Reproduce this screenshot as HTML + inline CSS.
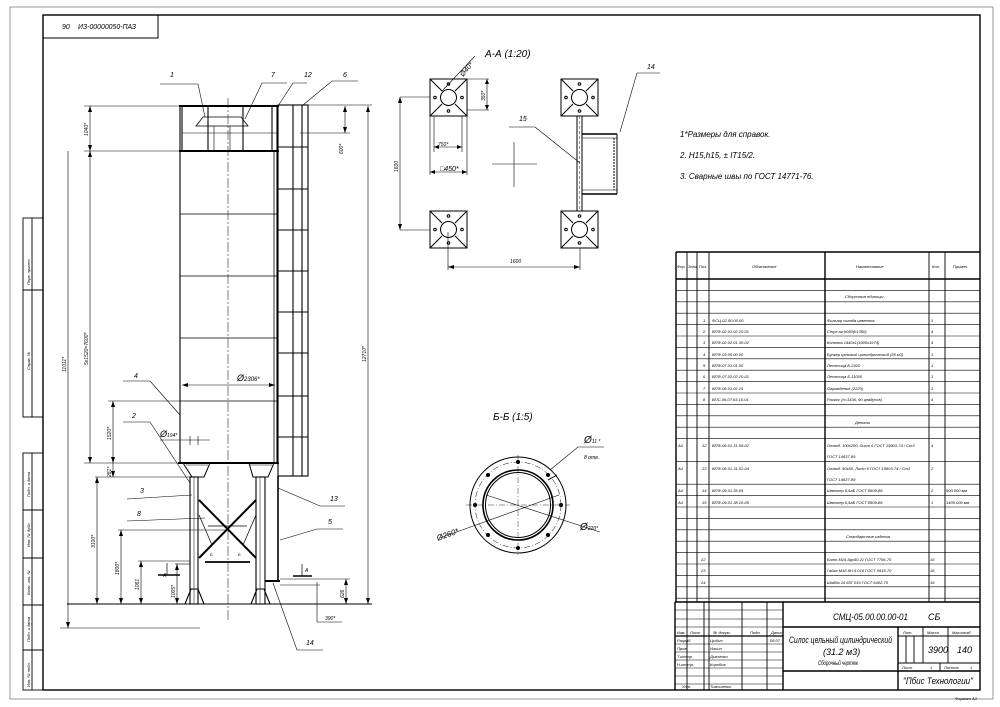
<!DOCTYPE html>
<html><head><meta charset="utf-8"><style>
html,body{margin:0;padding:0;background:#fff;}
svg{display:block;}
text{font-family:"Liberation Sans",sans-serif;font-style:italic;fill:#000;}
.t{font-size:5px;}
.s{font-size:4px;}
.n{font-size:7px;}
</style></head><body>
<svg width="1000" height="707" viewBox="0 0 1000 707" xmlns="http://www.w3.org/2000/svg">
<g fill="none" stroke="#000">
<rect x="10" y="7" width="983" height="692" stroke-width="0.6" stroke="#555"/>
<rect x="43" y="15" width="937" height="675" stroke-width="1.4"/>
<rect x="43" y="15" width="115" height="23" stroke-width="1"/>
<g stroke-width="0.9">
<rect x="23" y="218" width="20" height="199"/><line x1="32" y1="218" x2="32" y2="417"/><line x1="23" y1="290" x2="43" y2="290"/>
<rect x="23" y="453" width="20" height="237"/><line x1="32" y1="453" x2="32" y2="690"/>
<line x1="23" y1="510" x2="43" y2="510"/><line x1="23" y1="558" x2="43" y2="558"/><line x1="23" y1="605" x2="43" y2="605"/><line x1="23" y1="650" x2="43" y2="650"/>
</g>

<g stroke-width="1.1">
<rect x="180" y="106" width="97" height="45"/>
<line x1="182" y1="133" x2="277" y2="133" stroke-width="0.6"/>
<line x1="182" y1="106" x2="182" y2="151"/><line x1="208" y1="106" x2="208" y2="151"/><line x1="243" y1="106" x2="243" y2="151"/><line x1="272" y1="106" x2="272" y2="151"/>
<line x1="179" y1="106" x2="279" y2="106" stroke-width="2"/>
<path d="M196 126 L203 117 L241 117 L248 126 Z" stroke-width="0.8"/>
<line x1="214" y1="126" x2="214" y2="151" stroke-width="0.6"/><line x1="230" y1="126" x2="230" y2="151" stroke-width="0.6"/>
<rect x="180" y="151" width="97" height="312"/>
<line x1="179" y1="151" x2="279" y2="151" stroke-width="2"/>
<line x1="180" y1="214" x2="277" y2="214" stroke-width="0.7"/>
<line x1="180" y1="276" x2="277" y2="276" stroke-width="0.7"/>
<line x1="180" y1="338" x2="277" y2="338" stroke-width="0.7"/>
<line x1="180" y1="401" x2="277" y2="401" stroke-width="0.7"/>
<line x1="178" y1="463" x2="279" y2="463" stroke-width="2"/>
<rect x="278" y="105" width="30" height="371"/>
<line x1="293" y1="105" x2="293" y2="476"/><line x1="302" y1="105" x2="302" y2="476"/>
<line x1="274" y1="151" x2="274" y2="463" stroke-width="0.8"/>
<line x1="278" y1="147" x2="308" y2="147"/><line x1="278" y1="189" x2="308" y2="189"/><line x1="278" y1="230" x2="308" y2="230"/><line x1="278" y1="271" x2="308" y2="271"/><line x1="278" y1="312" x2="308" y2="312"/><line x1="278" y1="353" x2="308" y2="353"/><line x1="278" y1="396" x2="308" y2="396"/><line x1="278" y1="437" x2="308" y2="437"/><line x1="278" y1="476" x2="308" y2="476"/>
<line x1="278" y1="476" x2="278" y2="582" stroke-width="1.6"/>
<line x1="265" y1="581" x2="280" y2="581" stroke-width="2"/>
<path d="M183 463 L192 477 L204 477 L210 463" stroke-width="1"/>
<path d="M249 463 L253 477 L268 477 L274 463" stroke-width="1"/>
<line x1="186" y1="465" x2="208" y2="465" stroke-width="0.5"/><line x1="250" y1="465" x2="272" y2="465" stroke-width="0.5"/>
<rect x="190" y="477" width="8" height="127"/><rect x="256" y="477" width="9" height="127"/>
<line x1="194" y1="477" x2="194" y2="604" stroke-width="0.5"/><line x1="260" y1="477" x2="260" y2="604" stroke-width="0.5"/>
<path d="M185 604 L191 589 L198 589 L204 604" /><path d="M251 604 L257 589 L264 589 L270 604"/>
<line x1="199" y1="500" x2="256" y2="558" stroke-width="2"/>
<line x1="256" y1="500" x2="199" y2="558" stroke-width="2"/>
<line x1="208" y1="526" x2="247" y2="526" stroke-width="0.8"/>
<line x1="205" y1="562" x2="250" y2="562" stroke-width="1.8"/>
<line x1="199" y1="515" x2="212" y2="545" stroke-width="0.7"/><line x1="256" y1="515" x2="243" y2="545" stroke-width="0.7"/>
<line x1="67" y1="604" x2="372" y2="604" stroke-width="1"/>
</g>
<line x1="228" y1="98" x2="228" y2="620" stroke-width="0.5" stroke-dasharray="10,2,2,2"/>

<g stroke-width="0.6">
<line x1="68" y1="151" x2="68" y2="628"/><line x1="60" y1="628" x2="200" y2="628"/>
<line x1="90" y1="106" x2="90" y2="463"/>
<line x1="84" y1="106" x2="180" y2="106"/><line x1="84" y1="151" x2="180" y2="151"/><line x1="84" y1="463" x2="180" y2="463"/>
<line x1="113" y1="401" x2="113" y2="477"/><line x1="108" y1="401" x2="180" y2="401"/><line x1="95" y1="477" x2="190" y2="477"/>
<line x1="97" y1="477" x2="97" y2="604"/>
<line x1="121" y1="530" x2="121" y2="604"/><line x1="118" y1="530" x2="228" y2="530"/>
<line x1="141" y1="561" x2="141" y2="604"/><line x1="138" y1="561" x2="190" y2="561"/>
<line x1="177" y1="564" x2="177" y2="604"/><line x1="175" y1="564" x2="190" y2="564"/>
<line x1="368" y1="106" x2="368" y2="604"/><line x1="308" y1="105" x2="372" y2="105"/>
<line x1="345" y1="106" x2="345" y2="133"/><line x1="300" y1="133" x2="350" y2="133"/>
<line x1="346" y1="579" x2="346" y2="604"/><line x1="280" y1="579" x2="350" y2="579"/>
<line x1="317" y1="582" x2="317" y2="622"/><line x1="317" y1="622" x2="342" y2="622"/><line x1="280" y1="585" x2="320" y2="585"/>
<line x1="182" y1="385" x2="275" y2="385"/>
<line x1="160" y1="440" x2="210" y2="440"/><line x1="190" y1="436" x2="190" y2="445"/><line x1="198" y1="436" x2="198" y2="445"/>
<polyline points="160,84 198,84 205,117"/>
<polyline points="287,83 262,83 245,119"/>
<polyline points="307,83 293,83 278,106"/>
<polyline points="358,81 332,81 303,105"/>
<polyline points="123,381 150,381 180,415"/>
<polyline points="123,422 150,422 190,483"/>
<polyline points="127,499 192,495"/>
<polyline points="127,521 205,518"/>
<polyline points="345,506 320,506 278,488"/>
<polyline points="343,529 317,529 280,540"/>
<polyline points="323,650 297,650 273,583"/>
</g>
<g stroke-width="1.6">
<line x1="158" y1="575" x2="180" y2="575"/><line x1="293" y1="576" x2="312" y2="576"/>
<line x1="167" y1="563" x2="167" y2="575" stroke-width="0.7"/><line x1="302" y1="564" x2="302" y2="576" stroke-width="0.7"/>
</g>
</g>
<g fill="#000">
<path d="M90 106 l-2 6 h4z M90 151 l-2 -6 h4z M90 151 l-2 6 h4z M90 463 l-2 -6 h4z"/>
<path d="M97 477 l-2 6 h4z M97 604 l-2 -6 h4z M121 530 l-2 6 h4z M121 604 l-2 -6 h4z M141 561 l-2 6 h4z M141 604 l-2 -6 h4z M177 564 l-2 6 h4z M177 604 l-2 -6 h4z"/>
<path d="M368 106 l-2 6 h4z M368 604 l-2 -6 h4z M345 106 l-2 6 h4z M345 133 l-2 -6 h4z M346 579 l-2 6 h4z M346 604 l-2 -6 h4z M113 401 l-2 6 h4z M113 463 l-2 -6 h4z M113 477 l-2 -6 h4z"/>
<path d="M182 385 l6 -2 v4z M275 385 l-6 -2 v4z M68 628 l-2 -6 h4z"/>
<path d="M400 97 l-2 6 h4z M400 230 l-2 -6 h4z M448 267 l6 -2 v4z M580 267 l-6 -2 v4z M487 79 l-2 5 h4z M487 110 l-2 -5 h4z M434 147 l5 -2 v4z M462 147 l-5 -2 v4z M430 172 l5 -2 v4z M467 172 l-5 -2 v4z"/>
</g>

<text x="62" y="29" class="n">90</text><text x="78" y="29" class="n" textLength="58" lengthAdjust="spacingAndGlyphs">ИЗ-00000050-ПАЗ</text>
<text x="170" y="77" class="n">1</text><text x="271" y="77" class="n">7</text><text x="304" y="77" class="n">12</text><text x="343" y="77" class="n">6</text>
<text x="134" y="378" class="n">4</text><text x="132" y="418" class="n">2</text><text x="140" y="493" class="n">3</text><text x="137" y="516" class="n">8</text>
<text x="330" y="501" class="n">13</text><text x="328" y="524" class="n">5</text><text x="306" y="645" class="n">14</text>
<text x="237" y="381" style="font-size:9px">Ø<tspan style="font-size:6px">2306*</tspan></text>
<text x="160" y="437" style="font-size:9px">Ø<tspan style="font-size:5px">194*</tspan></text>
<text x="163" y="577" class="t">A</text><text x="305" y="572" class="t">A</text>
<text x="210" y="556" class="s">Б</text><text x="238" y="556" class="s">Б</text>
<text x="325" y="620" class="t">390*</text>
<g class="t">
<text transform="translate(88,136) rotate(-90)">1040*</text>
<text transform="translate(88,365) rotate(-90)">5х1520=7600*</text>
<text transform="translate(66,372) rotate(-90)">11011*</text>
<text transform="translate(111,440) rotate(-90)">1520*</text>
<text transform="translate(111,477) rotate(-90)">281*</text>
<text transform="translate(95,548) rotate(-90)">3100*</text>
<text transform="translate(119,575) rotate(-90)">1800*</text>
<text transform="translate(139,590) rotate(-90)">1061</text>
<text transform="translate(175,598) rotate(-90)">1005*</text>
<text transform="translate(343,154) rotate(-90)">600*</text>
<text transform="translate(366,362) rotate(-90)">12710*</text>
<text transform="translate(344,598) rotate(-90)">626</text>
</g>

<text x="485" y="57" style="font-size:10px">А-А  (1:20)</text>
<g fill="none" stroke="#000" stroke-width="1">
<g id="pad">
<rect x="430" y="79" width="37" height="37"/>
<circle cx="448.5" cy="97.5" r="8"/>
<line x1="430" y1="79" x2="442" y2="91"/><line x1="467" y1="79" x2="455" y2="91"/><line x1="430" y1="116" x2="442" y2="104"/><line x1="467" y1="116" x2="455" y2="104"/>
<circle cx="448.5" cy="84" r="1.3"/><circle cx="448.5" cy="111" r="1.3"/><circle cx="435" cy="97.5" r="1.3"/><circle cx="462" cy="97.5" r="1.3"/>
</g>
<use href="#pad" x="131" y="0"/>
<use href="#pad" x="0" y="132"/>
<use href="#pad" x="131" y="132"/>
<rect x="577" y="116" width="5" height="95"/>
<line x1="579.5" y1="116" x2="579.5" y2="211" stroke-width="0.4" stroke-dasharray="3,2"/>
<line x1="582" y1="134" x2="617" y2="134" stroke-width="1.4"/><line x1="582" y1="194" x2="617" y2="194" stroke-width="1.4"/>
<line x1="617" y1="134" x2="617" y2="194"/><line x1="614" y1="138" x2="614" y2="190" stroke-dasharray="2,1"/>
<line x1="582" y1="138" x2="617" y2="138" stroke-width="0.5"/><line x1="582" y1="190" x2="617" y2="190" stroke-width="0.5"/>
<g stroke-width="0.6">
<line x1="492" y1="164" x2="537" y2="164"/><line x1="514" y1="142" x2="514" y2="187"/>
<line x1="448" y1="232" x2="448" y2="270"/><line x1="580" y1="248" x2="580" y2="270"/><line x1="448" y1="267" x2="580" y2="267"/>
<line x1="400" y1="97" x2="430" y2="97"/><line x1="400" y1="230" x2="430" y2="230"/><line x1="400" y1="97" x2="400" y2="230"/>
<line x1="467" y1="79" x2="489" y2="79"/><line x1="467" y1="110" x2="489" y2="110"/><line x1="487" y1="79" x2="487" y2="110"/>
<line x1="434" y1="116" x2="434" y2="152"/><line x1="462" y1="116" x2="462" y2="152"/><line x1="434" y1="147" x2="462" y2="147"/>
<line x1="430" y1="116" x2="430" y2="175"/><line x1="467" y1="116" x2="467" y2="175"/><line x1="430" y1="172" x2="467" y2="172"/>
<line x1="442" y1="91" x2="475" y2="56"/>
<polyline points="509,127 535,127 580,163"/>
<polyline points="620,132 637,73 660,73"/>
</g>
</g>
<text x="459" y="76" class="n" transform="rotate(-50 462 72)">Ø40*</text>
<text x="510" y="263" class="t">1600</text>
<text x="438" y="146" class="t">750*</text>
<text x="440" y="171" style="font-size:7px">□450*</text>
<text transform="translate(398,172) rotate(-90)" class="t">1600</text>
<text transform="translate(485,101) rotate(-90)" class="t">350*</text>
<text x="519" y="121" class="n">15</text><text x="647" y="69" class="n">14</text>

<text x="493" y="420" style="font-size:10px">Б-Б  (1:5)</text>
<g fill="none" stroke="#000">
<circle cx="518" cy="505" r="48" stroke-width="1"/>
<circle cx="518" cy="505" r="43" stroke-width="0.5" stroke-dasharray="6,2,1,2"/>
<circle cx="518" cy="505" r="35" stroke-width="1.6"/>
<circle cx="518" cy="505" r="32.5" stroke-width="1"/>
<line x1="466" y1="505" x2="570" y2="505" stroke-width="0.4" stroke-dasharray="6,2,1,2"/>
<line x1="518" y1="455" x2="518" y2="555" stroke-width="0.4" stroke-dasharray="6,2,1,2"/>
<line x1="440" y1="538" x2="559" y2="495" stroke-width="0.6"/>
<line x1="486" y1="495" x2="600" y2="532" stroke-width="0.6"/>
<polyline points="550,470 578,447 604,447" stroke-width="0.6"/>
<line x1="548" y1="480" x2="557" y2="475" stroke-width="1"/>
</g>
<g fill="#000">
<circle cx="518" cy="462" r="2"/><circle cx="518" cy="548" r="2"/><circle cx="475" cy="505" r="2"/><circle cx="561" cy="505" r="2"/>
<circle cx="488" cy="475" r="2"/><circle cx="548" cy="475" r="2"/><circle cx="488" cy="535" r="2"/><circle cx="548" cy="535" r="2"/>
</g>
<text x="584" y="443" style="font-size:10px">Ø<tspan style="font-size:5px">11 *</tspan></text>
<text x="584" y="459" class="t">8 отв.</text>
<text x="580" y="530" style="font-size:10px">Ø<tspan style="font-size:5px">220*</tspan></text>
<text x="437" y="540" style="font-size:8px" transform="rotate(-20 440 538)">Ø260*</text>

<text x="680" y="137" style="font-size:8px">1*Размеры для справок.</text>
<text x="680" y="158" style="font-size:8px">2. H15,h15, ± IT15/2.</text>
<text x="680" y="179" style="font-size:8px">3. Сварные швы по ГОСТ 14771-76.</text>

<g fill="none" stroke="#000" stroke-width="0.9">
<line x1="676" y1="252" x2="980" y2="252" stroke-width="1.4"/>
<line x1="676" y1="252" x2="676" y2="602" stroke-width="1.4"/>
<line x1="687" y1="252" x2="687" y2="690"/><line x1="697" y1="252" x2="697" y2="602"/><line x1="709" y1="252" x2="709" y2="690"/>
<line x1="825" y1="252" x2="825" y2="602" stroke-width="1.4"/><line x1="929" y1="252" x2="929" y2="602"/><line x1="945" y1="252" x2="945" y2="602"/>
<line x1="676" y1="279" x2="980" y2="279" stroke-width="1.4"/>
<g stroke-width="0.6">
<line x1="676" y1="290.4" x2="980" y2="290.4"/><line x1="676" y1="301.8" x2="980" y2="301.8"/><line x1="676" y1="313.2" x2="980" y2="313.2"/><line x1="676" y1="324.6" x2="980" y2="324.6"/><line x1="676" y1="336" x2="980" y2="336"/><line x1="676" y1="347.4" x2="980" y2="347.4"/><line x1="676" y1="358.8" x2="980" y2="358.8"/><line x1="676" y1="370.2" x2="980" y2="370.2"/><line x1="676" y1="381.6" x2="980" y2="381.6"/><line x1="676" y1="393" x2="980" y2="393"/><line x1="676" y1="404.4" x2="980" y2="404.4"/><line x1="676" y1="415.8" x2="980" y2="415.8"/><line x1="676" y1="427.2" x2="980" y2="427.2"/><line x1="676" y1="438.6" x2="980" y2="438.6"/><line x1="676" y1="461.4" x2="980" y2="461.4"/><line x1="676" y1="484.2" x2="980" y2="484.2"/><line x1="676" y1="495.6" x2="980" y2="495.6"/><line x1="676" y1="507" x2="980" y2="507"/><line x1="676" y1="518.4" x2="980" y2="518.4"/><line x1="676" y1="529.8" x2="980" y2="529.8"/><line x1="676" y1="541.2" x2="980" y2="541.2"/><line x1="676" y1="552.6" x2="980" y2="552.6"/><line x1="676" y1="564" x2="980" y2="564"/><line x1="676" y1="575.4" x2="980" y2="575.4"/><line x1="676" y1="586.8" x2="980" y2="586.8"/><line x1="676" y1="598.2" x2="980" y2="598.2"/>
</g>
<line x1="675" y1="602" x2="980" y2="602" stroke-width="1.4"/>
<line x1="675" y1="602" x2="675" y2="690" stroke-width="1.4"/>
<line x1="704" y1="602" x2="704" y2="690"/><line x1="742" y1="602" x2="742" y2="690"/><line x1="767" y1="602" x2="767" y2="690"/>
<line x1="783" y1="602" x2="783" y2="690" stroke-width="1.4"/>
<line x1="783" y1="627" x2="980" y2="627" stroke-width="1.4"/>
<line x1="783" y1="671" x2="980" y2="671" stroke-width="1.4"/>
<line x1="898" y1="627" x2="898" y2="690" stroke-width="1.4"/>
<line x1="923" y1="627" x2="923" y2="663"/><line x1="948" y1="627" x2="948" y2="663"/>
<line x1="898" y1="636" x2="980" y2="636"/><line x1="898" y1="663" x2="980" y2="663"/>
<line x1="906" y1="636" x2="906" y2="663"/><line x1="914" y1="636" x2="914" y2="663"/>
<line x1="940" y1="663" x2="940" y2="671"/>
<g stroke-width="0.6">
<line x1="675" y1="610" x2="783" y2="610"/><line x1="675" y1="619" x2="783" y2="619"/><line x1="675" y1="627" x2="783" y2="627"/>
<line x1="675" y1="636" x2="783" y2="636" stroke-width="1.3"/><line x1="675" y1="644" x2="783" y2="644"/><line x1="675" y1="652" x2="783" y2="652"/><line x1="675" y1="660" x2="783" y2="660"/><line x1="675" y1="668" x2="783" y2="668"/><line x1="675" y1="676" x2="783" y2="676"/><line x1="675" y1="684" x2="783" y2="684"/>
</g>
</g>
<g class="s" font-size="4">
<text x="677" y="268">Фор.</text><text x="688" y="268">Зона</text><text x="699" y="268">Поз.</text><text x="752" y="268">Обозначение</text><text x="856" y="268">Наименование</text><text x="932" y="268">Кол.</text><text x="953" y="268">Примеч.</text>
<text x="845" y="298">Сборочные единицы</text>
<text x="703" y="322">1</text><text x="712" y="322">ФСЦ-02.00.00.00</text><text x="827" y="322">Фильтр склада цемента</text><text x="931" y="322">1</text>
<text x="703" y="333">2</text><text x="712" y="333">ВПФ-02.01.02.20-01</text><text x="827" y="333">Стул-ок h050(h1350)</text><text x="931" y="333">4</text>
<text x="703" y="344">3</text><text x="712" y="344">ВПФ-02.02.01.30-02</text><text x="827" y="344">Колонна 1440х1(1900х1974)</text><text x="931" y="344">4</text>
<text x="703" y="356">4</text><text x="712" y="356">ВПФ-03.05.00.00</text><text x="827" y="356">Бункер цельный цилиндрический (35 м3)</text><text x="931" y="356">1</text>
<text x="703" y="367">5</text><text x="712" y="367">ВПФ-07.01.01.00</text><text x="827" y="367">Лестница Б-2420</text><text x="931" y="367">1</text>
<text x="703" y="378">6</text><text x="712" y="378">ВПФ-07.02.02.10-01</text><text x="827" y="378">Лестница Б-11000</text><text x="931" y="378">1</text>
<text x="703" y="390">7</text><text x="712" y="390">ВПФ-06.01.02.15</text><text x="827" y="390">Ограждение (2220)</text><text x="931" y="390">1</text>
<text x="703" y="401">8</text><text x="712" y="401">ВПС-06.07.03.10-01</text><text x="827" y="401">Раскос (h=1436, 90 градусов)</text><text x="931" y="401">4</text>
<text x="855" y="424">Детали</text>
<text x="678" y="447">А4</text><text x="702" y="447">12</text><text x="712" y="447">ВПФ-06.01.31.09-02</text><text x="827" y="447">Отвод. 100х200, Лист 6 ГОСТ 19903-74 / Ст3</text><text x="827" y="458">ГОСТ 14637-89</text><text x="931" y="447">4</text>
<text x="678" y="470">А4</text><text x="702" y="470">13</text><text x="712" y="470">ВПФ-06.01.31.02-04</text><text x="827" y="470">Отвод. 50х50, Лист 6 ГОСТ 19903-74 / Ст3</text><text x="827" y="481">ГОСТ 14637-89</text><text x="931" y="470">2</text>
<text x="678" y="492">А4</text><text x="702" y="492">14</text><text x="712" y="492">ВПФ-09.01.35.05</text><text x="827" y="492">Швеллер 6,5аБ ГОСТ 8509-86</text><text x="931" y="492">2</text><text x="946" y="492">500,000 мм</text>
<text x="678" y="504">А4</text><text x="702" y="504">15</text><text x="712" y="504">ВПФ-09.01.38.10-05</text><text x="827" y="504">Швеллер 6,5аБ ГОСТ 8509-86</text><text x="931" y="504">1</text><text x="946" y="504">1405,000 мм</text>
<text x="846" y="538">Стандартные изделия</text>
<text x="701" y="561">22</text><text x="827" y="561">Болт М16-6gх50.21 ГОСТ 7796-70</text><text x="930" y="561">16</text>
<text x="701" y="572">23</text><text x="827" y="572">Гайка М16-6Н.5.016 ГОСТ 5915-70</text><text x="930" y="572">16</text>
<text x="701" y="584">24</text><text x="827" y="584">Шайба 16 65Г 016 ГОСТ 6402-70</text><text x="930" y="584">16</text>
<text x="677" y="634">Изм.</text><text x="690" y="634">Лист</text><text x="713" y="634">№ докум.</text><text x="750" y="634">Подп.</text><text x="771" y="634">Дата</text>
<text x="677" y="642">Разраб.</text><text x="710" y="642">Цыбин</text><text x="770" y="642">08.07</text>
<text x="677" y="650">Пров.</text><text x="710" y="650">Ильин</text>
<text x="677" y="658">Т.контр.</text><text x="710" y="658">Дьяченко</text>
<text x="677" y="666">Н.контр.</text><text x="710" y="666">Коробов</text>
<text x="682" y="688">Утв.</text><text x="710" y="688">Тимошенко</text>
<text x="903" y="634">Лит.</text><text x="927" y="634">Масса</text><text x="952" y="634">Масштаб</text>
<text x="902" y="669">Лист</text><text x="930" y="669">1</text><text x="944" y="669">Листов</text><text x="970" y="669">1</text>
<text x="955" y="700">Формат А3</text>
</g>
<text x="833" y="620" style="font-size:9px" textLength="75" lengthAdjust="spacingAndGlyphs">СМЦ-05.00.00.00-01</text><text x="928" y="620" style="font-size:9px">СБ</text>
<text x="789" y="643" style="font-size:9px" textLength="103" lengthAdjust="spacingAndGlyphs">Силос цельный цилиндрический</text>
<text x="823" y="655" style="font-size:9px">(31.2 м3)</text>
<text x="818" y="665" style="font-size:6px" textLength="40" lengthAdjust="spacingAndGlyphs">Сборочный чертеж</text>
<text x="928" y="653" style="font-size:9px">3900</text><text x="957" y="653" style="font-size:9px">140</text>
<text x="903" y="684" style="font-size:9px" textLength="70" lengthAdjust="spacingAndGlyphs">"Пбис Технологии"</text>
<g class="s">
<text transform="translate(30,285) rotate(-90)">Перв. примен.</text>
<text transform="translate(30,370) rotate(-90)">Справ. №</text>
<text transform="translate(30,497) rotate(-90)">Подп. и дата</text>
<text transform="translate(30,547) rotate(-90)">Инв. № дубл.</text>
<text transform="translate(30,595) rotate(-90)">Взам. инв. №</text>
<text transform="translate(30,642) rotate(-90)">Подп. и дата</text>
<text transform="translate(30,687) rotate(-90)">Инв. № подл.</text>
</g>
</svg>
</body></html>
